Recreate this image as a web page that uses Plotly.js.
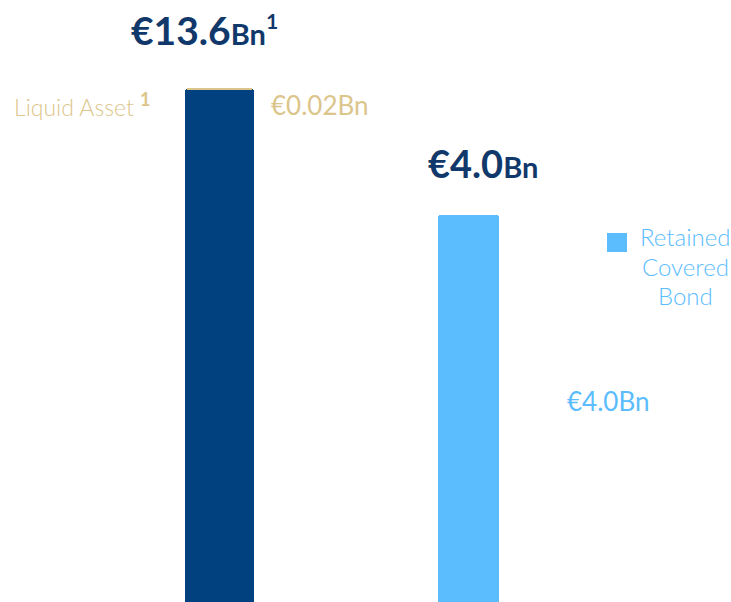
<!DOCTYPE html>
<html>
<head>
<meta charset="utf-8">
<script src="https://cdn.plot.ly/plotly-3.0.1.min.js"></script>
<style>html,body{margin:0;padding:0;background:#fff;}#chart{width:731px;height:602px;}</style>
</head>
<body>
<div id="chart"></div>
<script>
// ---- data ----
const categories = ["Liquidity Buffer", "Retained Covered Bond"];
const totals = [13.6, 4.0];            // €Bn, bar totals
const liquidAsset = 0.02;               // €Bn, stacked on top of the first bar
const totalLabels = ["€13.6", "€4.0"];
const seriesNames = ["Liquid Asset", "Retained Covered Bond"];
const legendLines = ["Retained", "Covered", "Bond"];

const NAVY = "#02417f";
const GOLD = "#dcc58b";
const LIGHT = "#5bbcfe";
const TITLE = "#11386a";
const FONT = "Lato, 'Open Sans', sans-serif";

const traces = [
  {
    type: "bar", x: [categories[0]], y: [totals[0] - liquidAsset],
    width: 0.277, marker: {color: NAVY, line: {width: 0}}, hoverinfo: "skip", showlegend: false
  },
  {
    type: "bar", x: [categories[0]], y: [liquidAsset], name: seriesNames[0],
    width: 0.277, marker: {color: GOLD, line: {color: GOLD, width: 2.5}}, hoverinfo: "skip", showlegend: false
  },
  {
    type: "bar", x: [categories[1]], y: [totals[1]], name: seriesNames[1],
    width: 0.245, marker: {color: LIGHT, line: {width: 0}, cornerradius: 3}, hoverinfo: "skip", showlegend: false
  }
];

function px(x){return x/731;}
function py(y){return 1 - y/602;}

const annotations = [
  {xref:"paper", yref:"paper", x:px(204), y:py(30), xanchor:"center", yanchor:"middle", showarrow:false,
   text:"<b>"+totalLabels[0]+"<span style='font-size:29px'>Bn</span><sup><span style='font-size:21px'>1</span></sup></b>",
   font:{family:FONT, size:39, color:TITLE}},
  {xref:"paper", yref:"paper", x:px(483), y:py(163), xanchor:"center", yanchor:"middle", showarrow:false,
   text:"<b>"+totalLabels[1]+"<span style='font-size:29px'>Bn</span></b>",
   font:{family:FONT, size:38, color:TITLE}},
  {xref:"paper", yref:"paper", x:px(12), y:py(105), xanchor:"left", yanchor:"middle", showarrow:false,
   text:seriesNames[0]+" <b><sup><span style='font-size:18px'>1</span></sup></b>",
   font:{family:FONT, size:23, color:GOLD, weight:300}},
  {xref:"paper", yref:"paper", x:px(269), y:py(105), xanchor:"left", yanchor:"middle", showarrow:false,
   text:"€"+liquidAsset.toFixed(2)+"Bn",
   font:{family:FONT, size:26, color:GOLD, weight:400}},
  {xref:"paper", yref:"paper", x:px(565), y:py(401), xanchor:"left", yanchor:"middle", showarrow:false,
   text:"€"+totals[1].toFixed(1)+"Bn",
   font:{family:FONT, size:26, color:LIGHT, weight:400}}
];
const legendY = [237, 266, 295];
legendLines.forEach(function(t, i){
  annotations.push({xref:"paper", yref:"paper", x:px(685), y:py(legendY[i]), xanchor:"center", yanchor:"middle",
    showarrow:false, text:t, font:{family:FONT, size:24, color:LIGHT, weight:300}});
});

const shapes = [
  {type:"rect", xref:"paper", yref:"paper", x0:px(607), x1:px(627), y0:py(252), y1:py(233),
   fillcolor:LIGHT, line:{width:0}}
];

const layout = {
  width:731, height:602,
  margin:{l:0,r:0,t:0,b:0},
  paper_bgcolor:"#ffffff", plot_bgcolor:"#ffffff",
  barmode:"stack",
  showlegend:false,
  xaxis:{type:"category", range:[-0.8815, 2.0542], visible:false, fixedrange:true},
  yaxis:{type:"log", range:[-1.0304, 1.5090], visible:false, fixedrange:true},
  annotations:annotations,
  shapes:shapes
};

Plotly.newPlot("chart", traces, layout, {displayModeBar:false, staticPlot:true});
</script>
</body>
</html>
